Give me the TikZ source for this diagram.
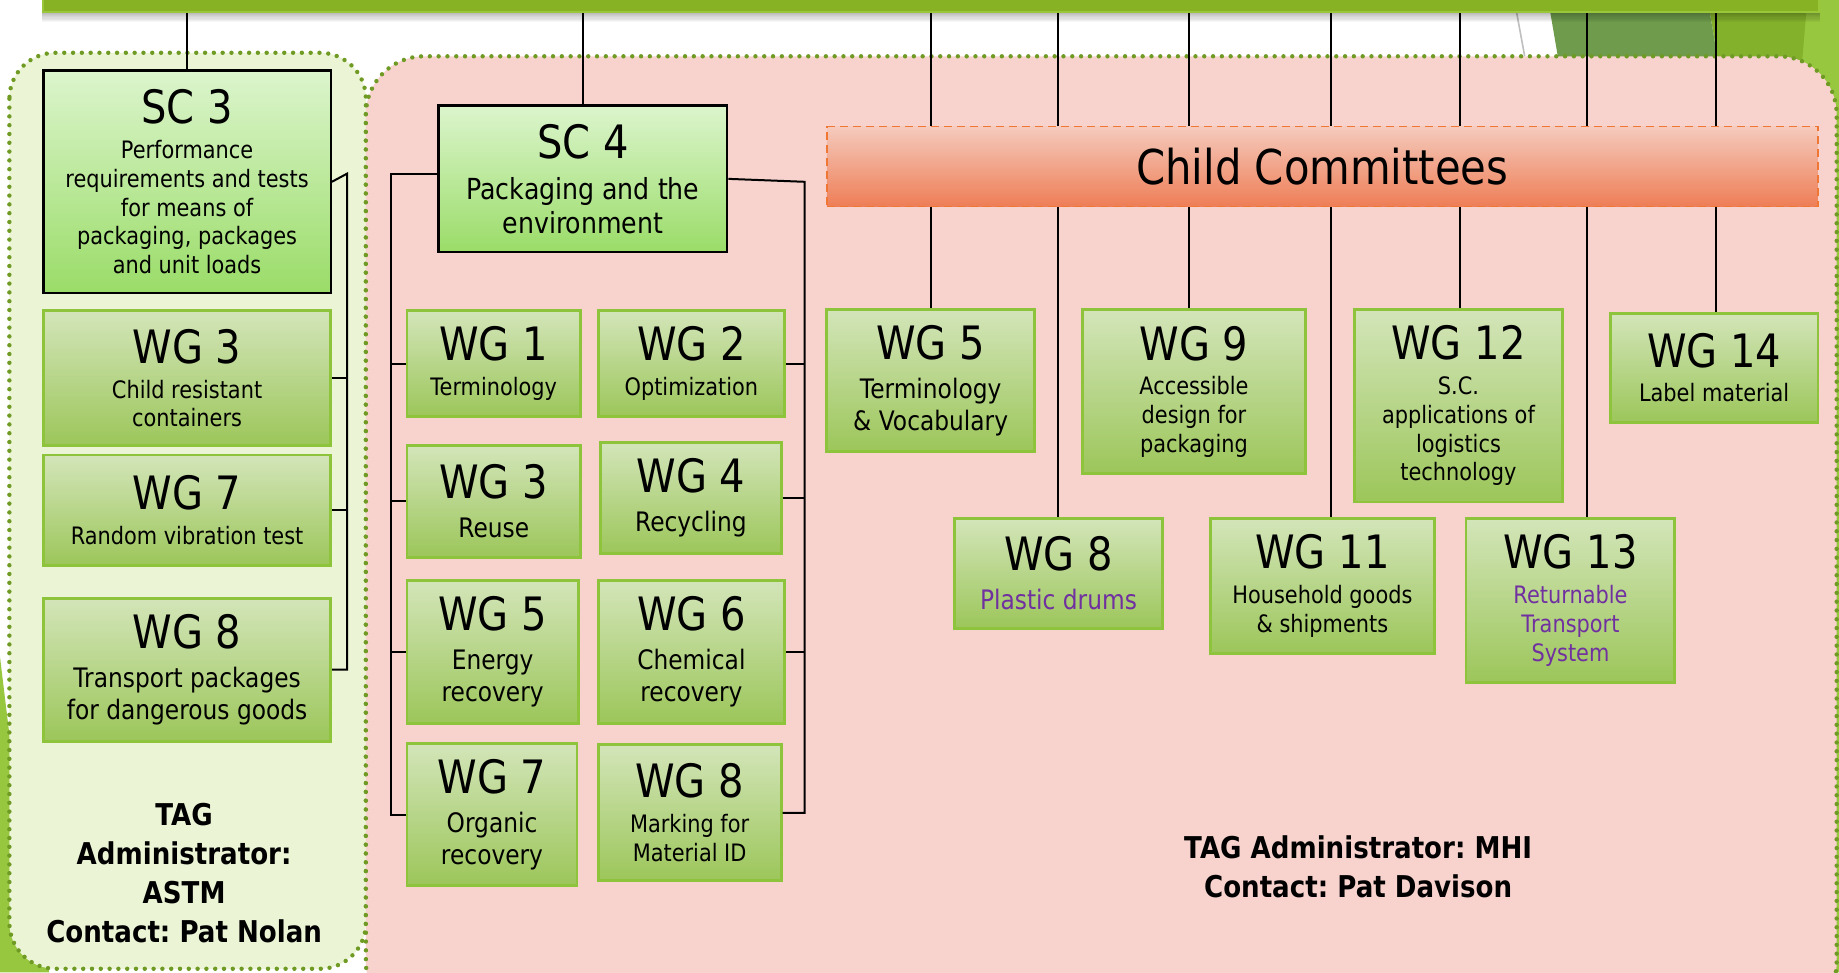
\documentclass[tikz,border=0pt]{standalone}
\usepackage{fontspec}
\setmainfont{DejaVu Sans}[FakeStretch=0.87]
\frenchspacing
\definecolor{barGreen}{HTML}{86B223}
\definecolor{barEdge}{HTML}{9AC73A}
\definecolor{panelGreen}{HTML}{EBF5D5}
\definecolor{panelPink}{HTML}{F8D3CE}
\definecolor{dotGreen}{HTML}{6F9A23}
\definecolor{scTop}{HTML}{DCF5CD}
\definecolor{scBot}{HTML}{9ADC68}
\definecolor{wgTop}{HTML}{D3E5B9}
\definecolor{wgBot}{HTML}{9CC65A}
\definecolor{wgLine}{HTML}{8DC43C}
\definecolor{ccTop}{HTML}{F5CABD}
\definecolor{ccBot}{HTML}{EE7E56}
\definecolor{ccLine}{HTML}{F07634}
\definecolor{wgPurple}{HTML}{7030A0}
\definecolor{decoDark}{HTML}{6E9B4C}
\definecolor{decoMid}{HTML}{83B12B}
\definecolor{decoLight}{HTML}{97C63F}
\newcommand{\upx}{0.5864pt}
\newcommand{\ttl}[1]{{\fontsize{23}{23}\selectfont #1}}
\newcommand{\cbox}[7]{\node(#1)[#2, minimum width={(#5-#3)*\upx}, minimum height={(#6-#4)*\upx}] at ({(#3+#5)/2},{(#4+#6)/2}) {#7}}

\begin{document}
\begin{tikzpicture}[
        x=\upx, y=-\upx,
        every node/.style={font=\fontsize{12}{14.4}\selectfont},
        sc/.style={draw=black, line width=1.2pt, top color=scTop, bottom color=scBot,
                   inner sep=0pt, align=center},
        wg/.style={draw=wgLine, line width=1.4pt, top color=wgTop, bottom color=wgBot,
                   inner sep=0pt, align=center},
        big/.style={font=\fontsize{13.4}{16}\selectfont},
        cc/.style={draw=ccLine, line width=0.8pt, dash pattern=on 4pt off 2.5pt,
                   top color=ccTop, bottom color=ccBot, inner sep=0pt,
                   font=\fontsize{24}{24}\selectfont},
        conn/.style={draw=black, line width=1pt},
        panel/.style={draw=dotGreen, line width=2.2pt, dash pattern=on 0pt off 4.4pt,
                      line cap=round},
        tag/.style={font=\bfseries\fontsize{15}{19.5}\selectfont, align=center}
      ]
      \useasboundingbox (0,0) rectangle (1568,829);
      \clip (0,0) rectangle (1568,829);
      \fill[white] (0,0) rectangle (1568,829);

      % slide background
      \fill[decoLight] (1536,0) -- (1568,0) -- (1568,829) -- (1480,829) -- (1520,300) -- cycle;
      \fill[decoMid] (1456,0) -- (1541,0) -- (1535,70) -- (1468,70) -- cycle;
      \fill[decoDark] (1320,0) -- (1456,0) -- (1468,70) -- (1332,70) -- cycle;
      \draw[black!25, line width=0.8pt] (1293,10) -- (1300,48);
      \fill[decoLight] (0,560) .. controls (12,660) and (24,760) .. (42,829) -- (0,829) -- cycle;

      \node (bar) [fill=barGreen, draw=barEdge, line width=1pt, inner sep=0pt,
                   minimum width={(1551-37)*\upx}, minimum height={30*\upx}] at (794,-5) {};
      \foreach \i in {0,...,7}
        \fill[black, opacity={0.26-0.032*\i}] ([yshift={-\i*\upx}]bar.south west)
          rectangle ([yshift={-(\i+1)*\upx}]bar.south east);

      \draw[panel, fill=panelGreen, rounded corners=23pt] (8,45) rectangle (312,826);
      \draw[panel, fill=panelPink, rounded corners=29pt] (312,48) rectangle (1566,870);

      % SC 3
      \cbox{sc3}{sc}{37}{60}{282}{250}{\ttl{SC 3}\\[3pt]Performance\\requirements and tests\\for means of\\packaging, packages\\and unit loads};
      \cbox{lwg3}{wg}{37}{265}{282}{380}{\ttl{WG 3}\\[3pt]Child resistant\\containers};
      \cbox{lwg7}{wg}{37}{388}{282}{482}{\ttl{WG 7}\\[3pt]Random vibration test};
      \cbox{lwg8}{wg,big}{37}{510}{282}{632}{\ttl{WG 8}\\[3.5pt]Transport packages\\for dangerous goods};
      \node (tagL) [tag] at (157,744) {TAG\\Administrator:\\ASTM\\Contact: Pat Nolan};

      % SC 4
      \cbox{sc4}{sc,font=\fontsize{14.5}{17}\selectfont}{374}{90}{620}{215}{\ttl{SC 4}\\[3.5pt]Packaging and the\\environment};
      \cbox{wg1}{wg}{347}{265}{495}{355}{\ttl{WG 1}\\[3pt]Terminology};
      \cbox{wg2}{wg}{510}{265}{669}{355}{\ttl{WG 2}\\[3pt]Optimization};
      \cbox{wg3}{wg,big}{347}{380}{495}{475}{\ttl{WG 3}\\[3.5pt]Reuse};
      \cbox{wg4}{wg,big}{512}{377}{666}{472}{\ttl{WG 4}\\[3.5pt]Recycling};
      \cbox{wg5}{wg,big}{347}{495}{493}{617}{\ttl{WG 5}\\[3.5pt]Energy\\recovery};
      \cbox{wg6}{wg,big}{510}{495}{669}{617}{\ttl{WG 6}\\[3.5pt]Chemical\\recovery};
      \cbox{wg7}{wg,big}{347}{634}{492}{755}{\ttl{WG 7}\\[3.5pt]Organic\\recovery};
      \cbox{wg8}{wg}{510}{635}{666}{751}{\ttl{WG 8}\\[3pt]Marking for\\Material ID};

      % child committees
      \cbox{rwg5}{wg,big}{705}{264}{882}{385}{\ttl{WG 5}\\[3.5pt]Terminology\\\& Vocabulary};
      \cbox{rwg8}{wg,big}{814}{442}{991}{536}{\ttl{WG 8}\\[3.5pt]\textcolor{wgPurple}{Plastic drums}};
      \cbox{rwg9}{wg}{923}{264}{1113}{404}{\ttl{WG 9}\\[3pt]Accessible\\design for\\packaging};
      \cbox{rwg11}{wg}{1032}{442}{1223}{557}{\ttl{WG 11}\\[3pt]Household goods\\\& shipments};
      \cbox{rwg12}{wg}{1155}{264}{1332}{428}{\ttl{WG 12}\\[3pt]S.C.\\applications of\\logistics\\technology};
      \cbox{rwg13}{wg}{1250}{442}{1428}{582}{\ttl{WG 13}\\[3pt]\textcolor{wgPurple}{Returnable}\\\textcolor{wgPurple}{Transport}\\\textcolor{wgPurple}{System}};
      \cbox{rwg14}{wg}{1373}{267}{1550}{360}{\ttl{WG 14}\\[3pt]Label material};
      \node (tagR) [tag] at (1158,739) {TAG Administrator: MHI\\Contact: Pat Davison};

      \draw[conn] (sc3.north) -- (sc3.north |- bar.south);
      \draw[conn] (sc4.north) -- (sc4.north |- bar.south);
      \foreach \n/\dx in {rwg5/0, rwg8/0, rwg9/-4, rwg11/7, rwg12/1, rwg13/14, rwg14/2}{
        \path ([xshift=\dx*\upx]\n.north) coordinate (t\n);
        \draw[conn] (t\n) -- (t\n |- bar.south);
      }
      \cbox{cc}{cc}{705}{108}{1550}{176}{Child Committees};

      \coordinate (r3) at (296,148);
      \draw[conn] (sc3.east) -- (r3) -- (r3 |- lwg8.east) -- (lwg8.east);
      \foreach \n in {lwg3,lwg7} \draw[conn] (\n.east) -- (\n.east -| r3);

      \coordinate (l4) at (333,148);
      \draw[conn] (sc4.west |- l4) -- (l4) -- (l4 |- wg7.west) -- (wg7.west);
      \foreach \n in {wg1,wg3,wg5} \draw[conn] (\n.west) -- (\n.west -| l4);
      \coordinate (r4) at (686,155);
      \draw[conn] (sc4.east) -- (r4) -- (r4 |- wg8.east) -- (wg8.east);
      \foreach \n in {wg2,wg4,wg6} \draw[conn] (\n.east) -- (\n.east -| r4);

    \end{tikzpicture}
\end{document}
